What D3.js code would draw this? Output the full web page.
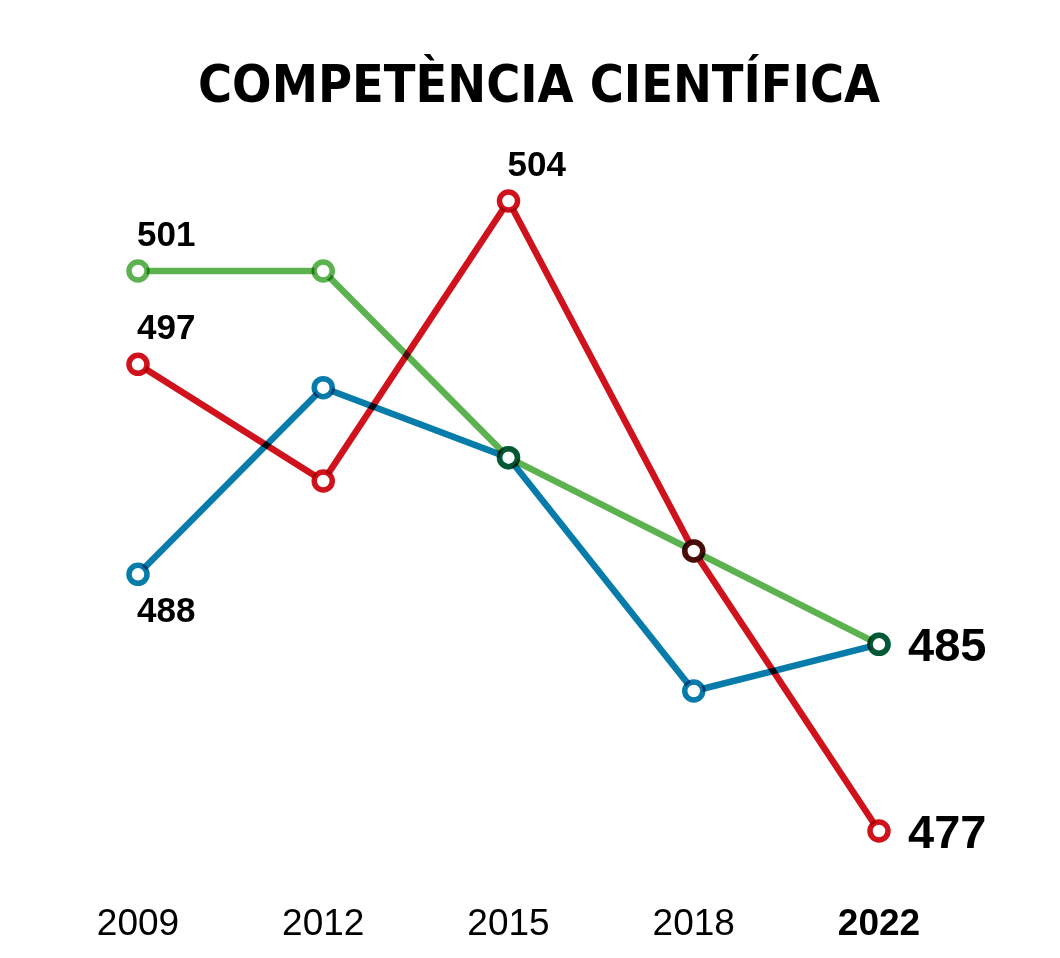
<!DOCTYPE html>
<html>
<head>
<meta charset="utf-8">
<script src="https://cdn.jsdelivr.net/npm/d3@7"></script>
<style>
  body { margin: 0; background: #fff; }
  svg { display: block; background: #fff; }
</style>
</head>
<body>
<div class="chart"></div>
<script>
var years = ["2009", "2012", "2015", "2018", "2022"]
var green = [501, 501, 493, 489, 485]
var red = [497, 492, 504, 489, 477]
var blue = [488, 496, 493, 483, 485]

var series = [
  { name: "blue", color: "#077cab", values: blue },
  { name: "green", color: "#5bb24f", values: green },
  { name: "red", color: "#d0121c", values: red }
]

// value labels: [series, year index, placement]
var labels = [
  ["green", 0, "above"],
  ["red", 0, "above"],
  ["red", 2, "above"],
  ["blue", 0, "below"],
  ["green", 4, "right"],
  ["red", 4, "right"]
]

var width = 1060,
  height = 958

var svg = d3.select(".chart").append("svg")
  .attr("width", width)
  .attr("height", height)

var x = d3.scalePoint()
  .domain(years)
  .range([138, 879])

var y = d3.scaleLinear()
  .domain([477, 504])
  .range([831, 201])

svg.append("text")
  .attr("x", 539)
  .attr("y", 102)
  .attr("text-anchor", "middle")
  .attr("textLength", 682)
  .attr("lengthAdjust", "spacingAndGlyphs")
  .style("font-family", "'Liberation Sans Narrow', 'DejaVu Sans Condensed', 'Liberation Sans', sans-serif")
  .style("font-weight", "bold")
  .style("font-size", "52px")
  .text("COMPETÈNCIA CIENTÍFICA")

var line = d3.line()
  .x(function(d, i) { return x(years[i]) })
  .y(function(d) { return y(d) })

svg.append("g")
  .selectAll("path")
  .data(series)
  .enter().append("path")
  .attr("d", function(d) { return line(d.values) })
  .attr("fill", "none")
  .attr("stroke", function(d) { return d.color })
  .attr("stroke-width", 6.5)
  .style("mix-blend-mode", "multiply")

var pts = []
series.forEach(function(s) {
  s.values.forEach(function(v, i) {
    pts.push({ color: s.color, year: years[i], value: v })
  })
})

svg.append("g")
  .selectAll("circle")
  .data(pts)
  .enter().append("circle")
  .attr("cx", function(d) { return x(d.year) })
  .attr("cy", function(d) { return y(d.value) })
  .attr("r", 9)
  .attr("fill", "#fff")

svg.append("g")
  .selectAll("circle")
  .data(pts)
  .enter().append("circle")
  .attr("cx", function(d) { return x(d.year) })
  .attr("cy", function(d) { return y(d.value) })
  .attr("r", 9)
  .attr("fill", "none")
  .attr("stroke", function(d) { return d.color })
  .attr("stroke-width", 5.5)
  .style("mix-blend-mode", "multiply")

var byName = {}
series.forEach(function(s) { byName[s.name] = s })

svg.append("g")
  .selectAll("text")
  .data(labels)
  .enter().append("text")
  .attr("x", function(d) {
    var px = x(years[d[1]])
    return d[2] == "right" ? px + 29 : px - 1
  })
  .attr("y", function(d) {
    var py = y(byName[d[0]].values[d[1]])
    if (d[2] == "above") return py - 25
    if (d[2] == "below") return py + 48
    return py + 17
  })
  .style("font-family", "'Liberation Sans', Arial, sans-serif")
  .style("font-weight", "bold")
  .style("font-size", function(d) { return d[2] == "right" ? "47px" : "35px" })
  .text(function(d) { return byName[d[0]].values[d[1]] })

svg.append("g")
  .selectAll("text")
  .data(years)
  .enter().append("text")
  .attr("x", function(d) { return x(d) })
  .attr("y", 935)
  .attr("text-anchor", "middle")
  .style("font-family", "'Liberation Sans', Arial, sans-serif")
  .style("font-weight", function(d, i) { return i == years.length - 1 ? "bold" : "normal" })
  .style("font-size", "37px")
  .text(function(d) { return d })
</script>
</body>
</html>
